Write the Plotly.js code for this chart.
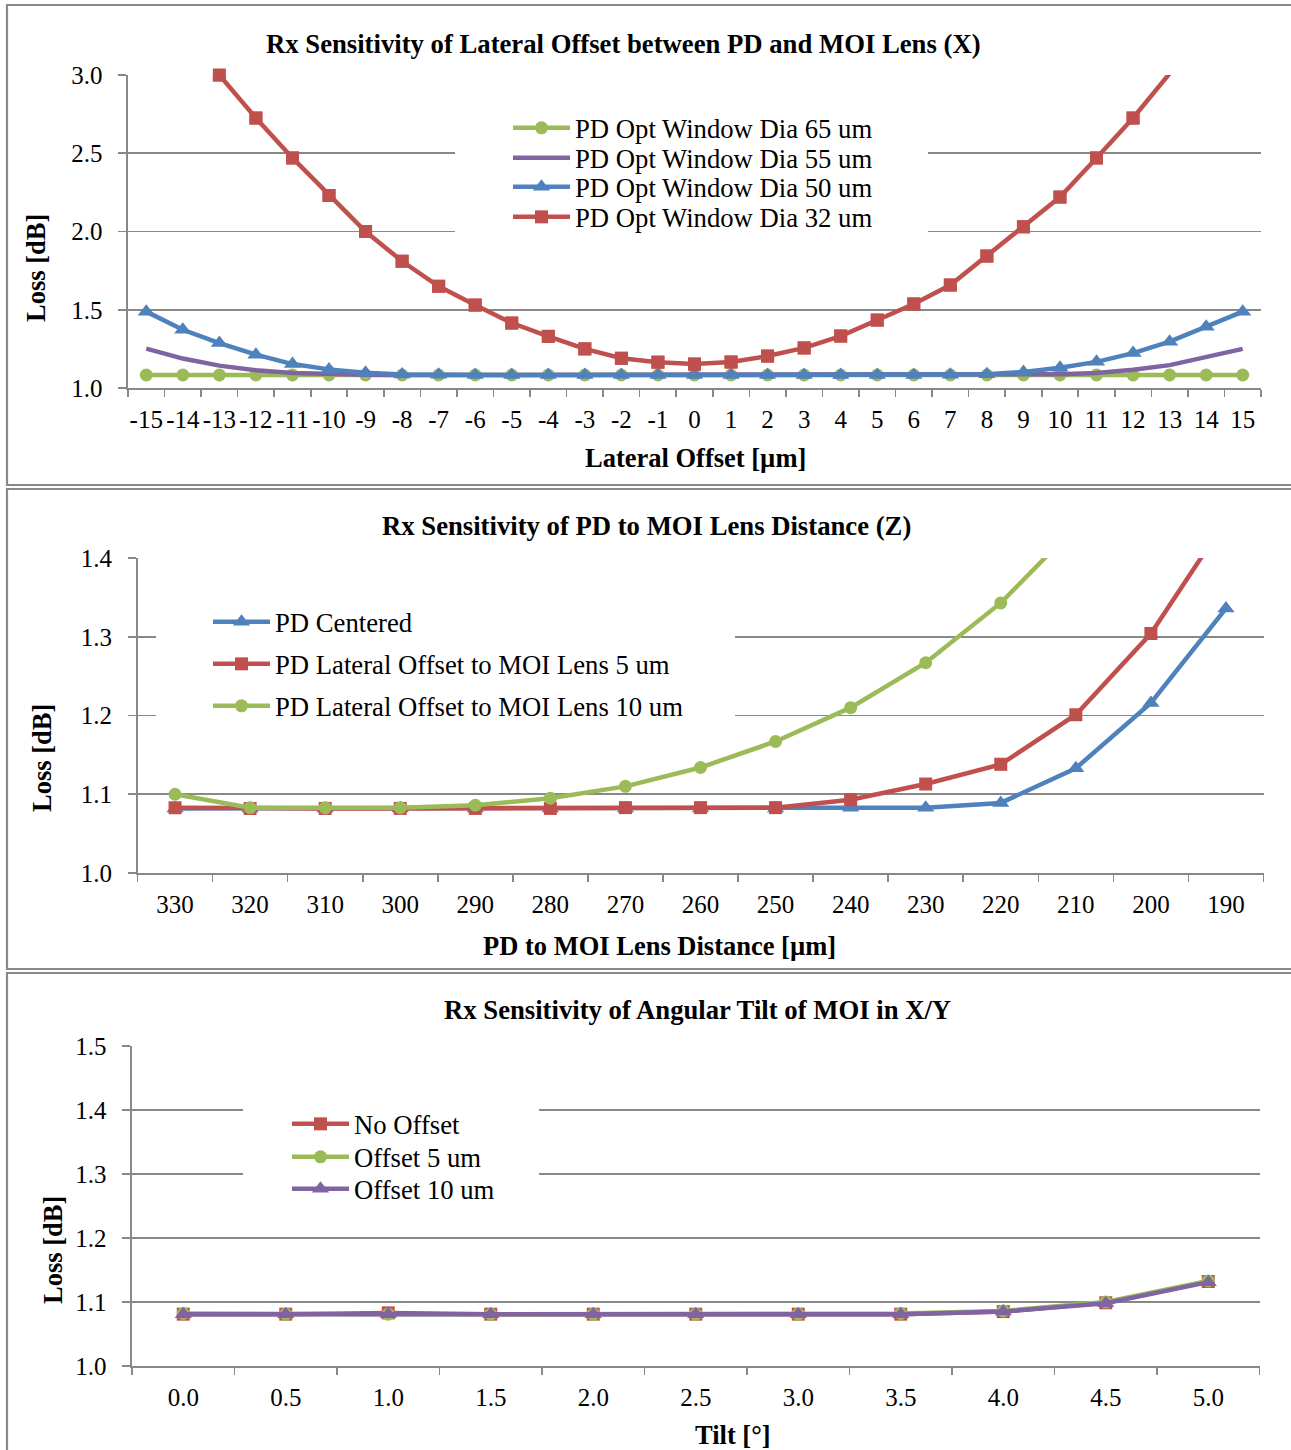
<!DOCTYPE html>
<html>
<head>
<meta charset="utf-8">
<script src="https://cdn.plot.ly/plotly-3.0.1.min.js"></script>
<style>html,body{margin:0;padding:0;background:#fff;}#chart{width:1291px;height:1450px;}</style>
</head>
<body>
<div id="chart"></div>
<script>
// ---------- data ----------
const lateralOffsets = ['-15','-14','-13','-12','-11','-10','-9','-8','-7','-6','-5','-4','-3','-2','-1','0','1','2','3','4','5','6','7','8','9','10','11','12','13','14','15'];
const dia65 = [1.083,1.083,1.083,1.083,1.083,1.083,1.083,1.083,1.083,1.083,1.083,1.083,1.083,1.083,1.083,1.083,1.083,1.083,1.083,1.083,1.083,1.083,1.083,1.083,1.083,1.083,1.083,1.083,1.083,1.083,1.083];
const dia55 = [1.252,1.188,1.143,1.114,1.096,1.088,1.085,1.083,1.083,1.083,1.083,1.083,1.083,1.083,1.083,1.083,1.083,1.083,1.083,1.083,1.083,1.083,1.083,1.083,1.085,1.088,1.096,1.117,1.146,1.195,1.250];
const dia50 = [1.488,1.372,1.287,1.213,1.153,1.119,1.098,1.087,1.084,1.083,1.083,1.083,1.083,1.083,1.083,1.083,1.083,1.083,1.083,1.083,1.083,1.083,1.084,1.088,1.102,1.130,1.167,1.223,1.296,1.392,1.488];
const dia32 = [3.62,3.29,3.00,2.725,2.47,2.23,2.00,1.81,1.65,1.53,1.415,1.33,1.25,1.19,1.165,1.153,1.166,1.204,1.256,1.332,1.434,1.537,1.658,1.843,2.03,2.22,2.47,2.725,3.01,3.31,3.63];

const lensDistances = ['330','320','310','300','290','280','270','260','250','240','230','220','210','200','190'];
const pdCentered = [1.082,1.082,1.082,1.082,1.082,1.082,1.082,1.082,1.082,1.083,1.083,1.089,1.133,1.216,1.336];
const pdOffset5 = [1.083,1.082,1.082,1.082,1.082,1.082,1.083,1.083,1.083,1.093,1.113,1.138,1.201,1.304,1.448];
const pdOffset10 = [1.100,1.083,1.083,1.083,1.086,1.095,1.110,1.134,1.167,1.210,1.267,1.343,1.440,1.570,1.740];

const tilts = ['0.0','0.5','1.0','1.5','2.0','2.5','3.0','3.5','4.0','4.5','5.0'];
const noOffset = [1.081,1.081,1.083,1.081,1.081,1.081,1.081,1.081,1.085,1.099,1.132];
const offset5 = [1.082,1.081,1.081,1.081,1.081,1.081,1.081,1.082,1.086,1.100,1.133];
const offset10 = [1.081,1.081,1.081,1.081,1.081,1.081,1.081,1.081,1.085,1.098,1.131];

// ---------- styling ----------
const W = 1291, H = 1450;
const px = x => x / W;
const py = y => 1 - y / H;
const FONT = 'Liberation Serif';
const C = {blue:'#4F81BD', red:'#C0504D', green:'#9BBB59', purple:'#8064A2'};
const GRID = '#888888';
const SYM = {'square':13, 'circle':13, 'triangle-up':15};

function line(x, y, color, symbol, axis, legend, name) {
  const t = {x, y, name, type:'scatter', mode: symbol ? 'lines+markers' : 'lines',
    line:{color, width:4.5}, xaxis:'x'+axis, yaxis:'y'+axis, legend, showlegend:true};
  if (symbol) t.marker = {symbol, size:SYM[symbol], color, line:{width:0}};
  return t;
}

const traces = [
  line(lateralOffsets, dia65, C.green, 'circle', '', 'legend', 'PD Opt Window Dia 65 um'),
  line(lateralOffsets, dia55, C.purple, null, '', 'legend2', 'PD Opt Window Dia 55 um'),
  line(lateralOffsets, dia50, C.blue, 'triangle-up', '', 'legend3', 'PD Opt Window Dia 50 um'),
  line(lateralOffsets, dia32, C.red, 'square', '', 'legend4', 'PD Opt Window Dia 32 um'),
  // markers lying exactly on the top edge are drawn whole
  {x: lateralOffsets, y: dia32.map(v => v <= 3.0 ? v : null), type:'scatter', mode:'markers', cliponaxis:false,
   marker:{symbol:'square', size:SYM.square, color:C.red}, xaxis:'x', yaxis:'y', showlegend:false, hoverinfo:'skip'},

  line(lensDistances, pdCentered, C.blue, 'triangle-up', '2', 'legend5', 'PD Centered'),
  line(lensDistances, pdOffset5, C.red, 'square', '2', 'legend6', 'PD Lateral Offset to MOI Lens 5 um'),
  line(lensDistances, pdOffset10, C.green, 'circle', '2', 'legend7', 'PD Lateral Offset to MOI Lens 10 um'),

  line(tilts, noOffset, C.red, 'square', '3', 'legend8', 'No Offset'),
  line(tilts, offset5, C.green, 'circle', '3', 'legend9', 'Offset 5 um'),
  line(tilts, offset10, C.purple, 'triangle-up', '3', 'legend10', 'Offset 10 um')
];

function xAxis(x0, x1, anchor, cats) {
  return {domain:[px(x0), px(x1)], anchor, type:'category', categoryorder:'array', categoryarray:cats,
    range:[-0.5, cats.length - 0.5], showgrid:false, zeroline:false, showline:true, linecolor:GRID, linewidth:1.6,
    ticks:'outside', tickson:'boundaries', ticklen:7, tickwidth:1.6, tickcolor:GRID, tickangle:0,
    tickfont:{family:FONT, size:25, color:'#000'}, ticklabelstandoff:8, fixedrange:true};
}
function yAxis(y0, y1, anchor, range, dtick) {
  return {domain:[py(y1), py(y0)], anchor, range, dtick, tick0:1, tickformat:'.1f',
    showgrid:true, gridcolor:GRID, gridwidth:1.6, zeroline:false, showline:true, linecolor:GRID, linewidth:1.6,
    ticks:'outside', ticklen:8, tickwidth:1.6, tickcolor:GRID,
    tickfont:{family:FONT, size:25, color:'#000'}, ticklabelstandoff:11, fixedrange:true};
}

const ITEMW = 57;
function legendAt(xText, yCenter) {
  return {x:px(xText - ITEMW - 12), xanchor:'left', y:py(yCenter), yanchor:'middle', bgcolor:'rgba(0,0,0,0)',
    borderwidth:0, itemwidth:ITEMW, font:{family:FONT, size:26.7, color:'#000'}};
}

function ann(text, x, y, opts) {
  return Object.assign({text, x:px(x), y:py(y), xref:'paper', yref:'paper', showarrow:false,
    xanchor:'center', yanchor:'middle', font:{family:FONT, size:26.7, color:'#000'}}, opts||{});
}

function frame(y0, y1) {
  return {type:'rect', xref:'paper', yref:'paper', x0:px(7), x1:px(1300), y0:py(y1), y1:py(y0),
    line:{color:'#898989', width:2.2}, fillcolor:'rgba(0,0,0,0)', layer:'below'};
}
function whiteBox(x0, x1, y0, y1) {
  return {type:'rect', xref:'paper', yref:'paper', x0:px(x0), x1:px(x1), y0:py(y1), y1:py(y0),
    fillcolor:'#ffffff', line:{width:0}, layer:'above'};
}

const layout = {
  width:W, height:H, margin:{l:0, r:0, t:0, b:0}, paper_bgcolor:'#fff', plot_bgcolor:'rgba(0,0,0,0)',
  showlegend:true, hovermode:false,
  xaxis: xAxis(128, 1261, 'y', lateralOffsets),
  yaxis: yAxis(75, 388, 'x', [1, 3], 0.5),
  xaxis2: xAxis(137.5, 1263.5, 'y2', lensDistances),
  yaxis2: yAxis(558, 873, 'x2', [1, 1.4], 0.1),
  xaxis3: xAxis(132, 1259.5, 'y3', tilts),
  yaxis3: yAxis(1046, 1366, 'x3', [1, 1.5], 0.1),
  legend: legendAt(577, 128),
  legend2: legendAt(577, 158),
  legend3: legendAt(577, 187),
  legend4: legendAt(577, 217),
  legend5: legendAt(277, 622),
  legend6: legendAt(277, 664),
  legend7: legendAt(277, 706),
  legend8: legendAt(356, 1124),
  legend9: legendAt(356, 1157),
  legend10: legendAt(356, 1189),
  shapes: [
    frame(5, 485), frame(489, 969), frame(973, 1462),
    whiteBox(455, 928, 112, 237),
    whiteBox(156, 735, 598, 730),
    whiteBox(243, 539, 1098, 1212)
  ],
  annotations: [
    ann('<b>Rx Sensitivity of Lateral Offset between PD and MOI Lens (X)</b>', 623, 44),
    ann('<b>Lateral Offset [µm]</b>', 695, 458, {font:{family:FONT, size:26.5, color:'#000'}}),
    ann('<b>Loss [dB]</b>', 36, 268, {textangle:-90, font:{family:FONT, size:26.5, color:'#000'}}),
    ann('<b>Rx Sensitivity of PD to MOI Lens Distance (Z)</b>', 646, 526),
    ann('<b>PD to MOI Lens Distance [µm]</b>', 659, 946, {font:{family:FONT, size:26.5, color:'#000'}}),
    ann('<b>Loss [dB]</b>', 42, 758, {textangle:-90, font:{family:FONT, size:26.5, color:'#000'}}),
    ann('<b>Rx Sensitivity of Angular Tilt of MOI in X/Y</b>', 697, 1010),
    ann('<b>Tilt [°]</b>', 733, 1435, {font:{family:FONT, size:26.5, color:'#000'}}),
    ann('<b>Loss [dB]</b>', 53, 1250, {textangle:-90, font:{family:FONT, size:26.5, color:'#000'}})
  ]
};

Plotly.newPlot('chart', traces, layout, {displayModeBar:false, staticPlot:true});
</script>
</body>
</html>
